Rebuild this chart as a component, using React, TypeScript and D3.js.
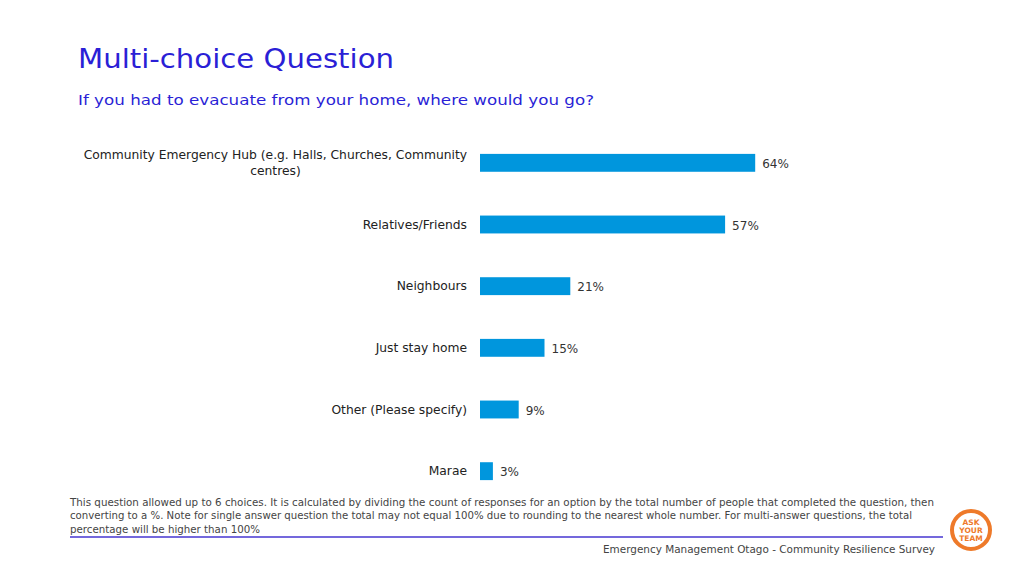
import React from "react";
import * as d3 from "d3";

const categories = [
  "Community Emergency Hub (e.g. Halls, Churches, Community centres)",
  "Relatives/Friends",
  "Neighbours",
  "Just stay home",
  "Other (Please specify)",
  "Marae",
];
const values = [64, 57, 21, 15, 9, 3];
const labelLines: string[][] = [
  ["Community Emergency Hub (e.g. Halls, Churches, Community", "centres)"],
  ["Relatives/Friends"],
  ["Neighbours"],
  ["Just stay home"],
  ["Other (Please specify)"],
  ["Marae"],
];
const title = "Multi-choice Question";
const subtitle = "If you had to evacuate from your home, where would you go?";
const noteLines = [
  "This question allowed up to 6 choices. It is calculated by dividing the count of responses for an option by the total number of people that completed the question, then",
  "converting to a %. Note for single answer question the total may not equal 100% due to rounding to the nearest whole number. For multi-answer questions, the total",
  "percentage will be higher than 100%",
];
const footer = "Emergency Management Otago - Community Resilience Survey";

const W = 1024;
const H = 576;
const FONT = "'DejaVu Sans', sans-serif";

export default function App() {
  const x = d3.scaleLinear().domain([0, 100]).range([480, 910]);
  const y = d3
    .scaleBand<string>()
    .domain(categories)
    .range([132, 502])
    .paddingInner(0.71)
    .paddingOuter(0.355);
  const bw = y.bandwidth();
  return (
    <svg
      width={W}
      height={H}
      style={{ position: "absolute", left: 0, top: 0, background: "#fff" }}
      fontFamily={FONT}
    >
      <rect width={W} height={H} fill="#ffffff" />
      <text x={78} y={68} fontSize={27} fill="#2b1fd6" textLength={316} lengthAdjust="spacingAndGlyphs">
        {title}
      </text>
      <text x={78} y={105} fontSize={14.5} fill="#2b1fd6" textLength={516} lengthAdjust="spacingAndGlyphs">
        {subtitle}
      </text>
      {categories.map((c, i) => {
        const cy = (y(c) as number) + bw / 2;
        const lines = labelLines[i];
        return (
          <g key={c}>
            <rect
              x={x(0)}
              y={y(c)}
              width={x(values[i]) - x(0)}
              height={bw}
              fill="#0096dd"
            />
            <text
              x={x(values[i]) + 7}
              y={cy + 5}
              fontSize={12}
              fill="#333"
            >
              {values[i]}%
            </text>
            {lines.map((l, k) => (
              <text
                key={k}
                x={k === 0 ? 467 : 275.5}
                y={(lines.length > 1 ? cy - 3.5 : cy + 4) + k * 16}
                fontSize={12.3}
                fill="#222"
                textAnchor={k === 0 ? "end" : "middle"}
              >
                {l}
              </text>
            ))}
          </g>
        );
      })}
      {noteLines.map((l, k) => (
        <text
          key={k}
          x={70}
          y={506 + k * 13.3}
          fontSize={9.6}
          fill="#444"
          textLength={k === 0 ? 864 : k === 1 ? 842 : 190}
          lengthAdjust="spacingAndGlyphs"
        >
          {l}
        </text>
      ))}
      <line x1={70} x2={943} y1={537} y2={537} stroke="#4636d0" strokeWidth={1.5} />
      <text
        x={935}
        y={552.5}
        fontSize={10}
        fill="#444"
        textAnchor="end"
        textLength={332}
        lengthAdjust="spacingAndGlyphs"
      >
        {footer}
      </text>
      <g transform="translate(971,530)">
        <circle r={19} fill="none" stroke="#ee7a2a" strokeWidth={4} />
        <text y={-5} fontSize={7.5} fontWeight="bold" fill="#ee7a2a" textAnchor="middle">ASK</text>
        <text y={3} fontSize={7.5} fontWeight="bold" fill="#ee7a2a" textAnchor="middle">YOUR</text>
        <text y={11} fontSize={7.5} fontWeight="bold" fill="#ee7a2a" textAnchor="middle">TEAM</text>
      </g>
    </svg>
  );
}
